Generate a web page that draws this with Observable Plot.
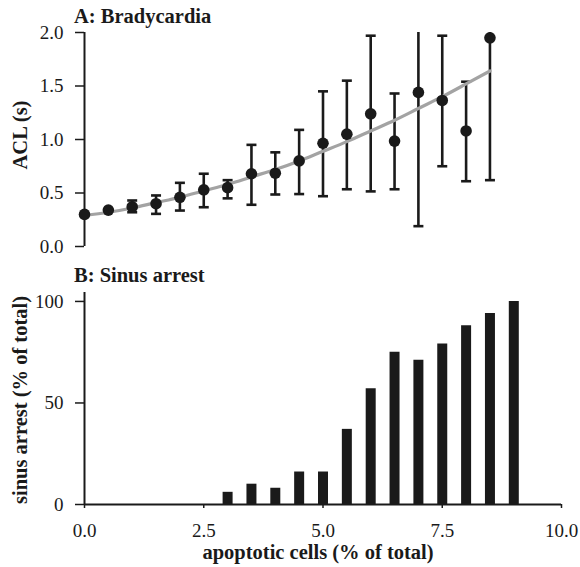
<!DOCTYPE html>
<html>
<head>
<meta charset="utf-8">
<script src="https://cdn.jsdelivr.net/npm/d3@7"></script>
<script src="https://cdn.jsdelivr.net/npm/@observablehq/plot@0.6"></script>
<style>
  html, body { margin: 0; padding: 0; background: #fff; }
  #wrap { position: relative; width: 580px; height: 567px; font-family: "Liberation Serif", "Times New Roman", serif; color: #1a1a1a; }
  .panel { position: absolute; left: 0; }
  .lbl { position: absolute; font-weight: bold; font-size: 20.5px; white-space: nowrap; line-height: 1; }
  .rot { transform: translate(-50%, -50%) rotate(-90deg); }
  .ctr { transform: translate(-50%, -50%); }
</style>
</head>
<body>
<div id="wrap"></div>
<script>
// ---- Data ----
const aclX    = [0, 0.5, 1, 1.5, 2, 2.5, 3, 3.5, 4, 4.5, 5, 5.5, 6, 6.5, 7, 7.5, 8, 8.5];
const aclMean = [0.30, 0.34, 0.37, 0.40, 0.46, 0.53, 0.55, 0.68, 0.685, 0.80, 0.965, 1.05, 1.24, 0.985, 1.44, 1.365, 1.08, 1.95];
const aclLow  = [0.30, 0.34, 0.32, 0.305, 0.336, 0.367, 0.45, 0.39, 0.486, 0.49, 0.47, 0.535, 0.515, 0.535, 0.19, 0.75, 0.61, 0.62];
const aclHigh = [0.30, 0.34, 0.43, 0.477, 0.595, 0.68, 0.62, 0.95, 0.88, 1.09, 1.45, 1.55, 1.97, 1.43, 2.1, 1.97, 1.54, 2.1];

const fitX = [0, 0.5, 1, 1.5, 2, 2.5, 3, 3.5, 4, 4.5, 5, 5.5, 6, 6.5, 7, 7.5, 8, 8.5];
const fitY = [0.29, 0.32, 0.36, 0.41, 0.46, 0.52, 0.58, 0.65, 0.72, 0.80, 0.89, 0.98, 1.08, 1.18, 1.29, 1.40, 1.52, 1.64];

const arrestX = [3, 3.5, 4, 4.5, 5, 5.5, 6, 6.5, 7, 7.5, 8, 8.5, 9];
const arrestY = [6, 10, 8, 16, 16, 37, 57, 75, 71, 79, 88, 94, 100];

const aclTicks = [0, 0.5, 1, 1.5, 2];
const arrestTicks = [0, 50, 100];
const xTicks = [0, 2.5, 5, 7.5, 10];

const titleA = "A: Bradycardia";
const titleB = "B: Sinus arrest";
const yLabelA = "ACL (s)";
const yLabelB = "sinus arrest (% of total)";
const xLabel = "apoptotic cells (% of total)";

// ---- Build tables ----
const acl = aclX.map((x, i) => ({x, mean: aclMean[i], lo: aclLow[i], hi: aclHigh[i]}));
const fit = fitX.map((x, i) => ({x, y: fitY[i]}));
const arrest = arrestX.map((x, i) => ({x, y: arrestY[i]}));

const ink = "#1a1a1a";
const font = '"Liberation Serif", "Times New Roman", serif';
const capSymbol = {
  draw(ctx, size) {
    const w = Math.sqrt(size / Math.PI);
    ctx.moveTo(-w, 0);
    ctx.lineTo(w, 0);
  }
};

const chartA = Plot.plot({
  width: 580, height: 260,
  marginLeft: 84, marginRight: 19, marginTop: 32, marginBottom: 14,
  style: {fontFamily: font, fontSize: "19px", color: ink, background: "white", overflow: "visible"},
  x: {domain: [0, 10], axis: null},
  y: {domain: [0, 2], axis: null},
  marks: [
    Plot.axisY({ticks: aclTicks, tickFormat: d3.format(".1f"), tickSize: 9, tickPadding: 12, fontSize: 19, label: null, stroke: ink, strokeWidth: 1.5}),
    Plot.ruleX([0], {stroke: ink, strokeWidth: 2}),
    Plot.ruleX(acl, {x: "x", y1: "lo", y2: "hi", stroke: ink, strokeWidth: 2.6, clip: true}),
    Plot.dot(acl, {x: "x", y: "hi", symbol: capSymbol, r: 5, fill: "none", stroke: ink, strokeWidth: 2.6, clip: true}),
    Plot.dot(acl, {x: "x", y: "lo", symbol: capSymbol, r: 5, fill: "none", stroke: ink, strokeWidth: 2.6, clip: true}),
    Plot.line(fit, {x: "x", y: "y", curve: "natural", stroke: "#a3a3a3", strokeWidth: 3.2}),
    Plot.dot(acl, {x: "x", y: "mean", r: 5.8, fill: ink, stroke: "none"})
  ]
});

const chartB = Plot.plot({
  width: 580, height: 307,
  marginLeft: 84, marginRight: 19, marginTop: 32, marginBottom: 63,
  style: {fontFamily: font, fontSize: "19px", color: ink, background: "white", overflow: "visible"},
  x: {domain: [0, 10], axis: null},
  y: {domain: [0, 104.4], axis: null},
  marks: [
    Plot.axisY({ticks: arrestTicks, tickSize: 9, tickPadding: 12, fontSize: 19, label: null, stroke: ink, strokeWidth: 1.5}),
    Plot.axisX({ticks: xTicks, tickFormat: d3.format(".1f"), tickSize: 4, tickPadding: 15, fontSize: 19, label: null, stroke: ink, strokeWidth: 1.5}),
    Plot.ruleX(arrest, {x: "x", y1: 0, y2: "y", stroke: ink, strokeWidth: 10}),
    Plot.ruleX([0], {stroke: ink, strokeWidth: 2}),
    Plot.ruleY([0], {stroke: ink, strokeWidth: 2})
  ]
});

const wrap = document.getElementById("wrap");
chartA.classList.add("panel"); chartA.style.top = "0px";
chartB.classList.add("panel"); chartB.style.top = "260px";
wrap.appendChild(chartA);
wrap.appendChild(chartB);

function addLabel(text, x, y, cls) {
  const d = document.createElement("div");
  d.className = "lbl " + cls;
  d.textContent = text;
  d.style.left = x + "px";
  d.style.top = y + "px";
  wrap.appendChild(d);
}
addLabel(titleA, 74, 5.5, "");
addLabel(titleB, 74, 264.5, "");
addLabel(yLabelA, 20, 135, "rot");
addLabel(yLabelB, 20, 400, "rot");
addLabel(xLabel, 318, 552, "ctr");
</script>
</body>
</html>
